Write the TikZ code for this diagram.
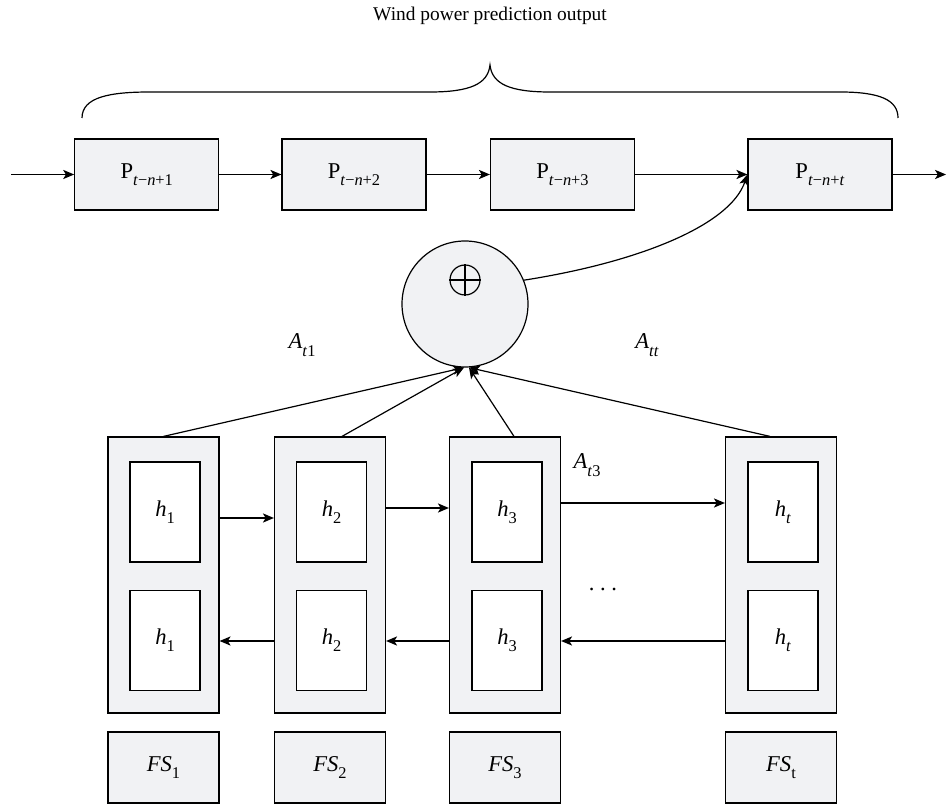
\documentclass[tikz,border=0pt]{standalone}
\usepackage{fontspec}
\setmainfont{Liberation Serif}
\usetikzlibrary{arrows.meta,calc}
\definecolor{boxfill}{RGB}{241,242,244}
% lowered subscript set in text mode
\newcommand\sbs[1]{\raisebox{-0.7ex}{\fontsize{8.2}{9}\selectfont #1}}

\begin{document}
\begin{tikzpicture}[x=0.5pt,y=-0.5pt,
  font=\fontsize{11.3}{13}\selectfont,
  line width=0.6pt,
  arr/.style={-{Stealth[length=5.5pt,width=4.6pt,inset=1.4pt]}},
  pbox/.style={draw, fill=boxfill, minimum width=72pt, minimum height=35.5pt, inner sep=0pt},
  cell/.style={draw, fill=boxfill, minimum width=55.5pt, minimum height=138pt, inner sep=0pt},
  hbox/.style={draw, fill=white, minimum width=35pt, minimum height=50pt, inner sep=0pt},
  fsbox/.style={draw, fill=boxfill, minimum width=55.5pt, minimum height=35.5pt, inner sep=0pt},
  lbl/.style={inner sep=0pt}
]
\useasboundingbox (0,0) rectangle (947,806);

% title and brace over the output sequence
\node[lbl, font=\fontsize{9.7}{12}\selectfont] (title) at (490,16) {Wind power prediction output};
\draw (82,118) .. controls (82,97) and (110,92) .. (150,92) -- (430,92)
      .. controls (470,92) and (488,84) .. (490,65)
      .. controls (492,84) and (510,92) .. (550,92) -- (840,92)
      .. controls (880,92) and (898,100) .. (898,118);

% output chain
\node[pbox] (p1) at (146.75,174.5) {P\sbs{\textit{t}−\textit{n}+1}};
\node[pbox] (p2) at (354,174.5) {P\sbs{\textit{t}−\textit{n}+2}};
\node[pbox] (p3) at (562.5,174.5) {P\sbs{\textit{t}−\textit{n}+3}};
\node[pbox] (p4) at (820,174.5) {P\sbs{\textit{t}−\textit{n}+\textit{t}}};
\coordinate (in) at (11,174.5);
\coordinate (out) at (946,174.5);
\draw[arr] (in) -- (p1);
\draw[arr] (p1) -- (p2);
\draw[arr] (p2) -- (p3);
\draw[arr] (p3) -- (p4);
\draw[arr] (p4) -- (out);

% attention summation
\node[circle, draw, fill=boxfill, minimum size=63pt, inner sep=0pt] (sum) at (465,304) {};
\node[circle, draw, minimum size=15pt, inner sep=0pt] (plus) at (465,280) {};
\draw (plus.north) -- (plus.south) (plus.west) -- (plus.east);
\draw[arr] (sum.22) .. controls (640,262) and (730,225) .. (p4.west);

% bidirectional cells
\node[cell] (b1) at (163.5,575) {};
\node[cell] (b2) at (330,575) {};
\node[cell] (b3) at (505,575) {};
\node[cell] (b4) at (781,575) {};
\node[hbox] (f1) at (165,512) {\textit{h}\sbs{1}};
\node[hbox] (f2) at (331.5,512) {\textit{h}\sbs{2}};
\node[hbox] (f3) at (507,512) {\textit{h}\sbs{3}};
\node[hbox] (f4) at (783,512) {\textit{h}\sbs{\textit{t}}};
\node[hbox] (g1) at (165,640.5) {\textit{h}\sbs{1}};
\node[hbox] (g2) at (331.5,640.5) {\textit{h}\sbs{2}};
\node[hbox] (g3) at (507,640.5) {\textit{h}\sbs{3}};
\node[hbox] (g4) at (783,640.5) {\textit{h}\sbs{\textit{t}}};

% forward and backward passes
\draw[arr] (b1.east |- 0,518) -- (b2.west |- 0,518);
\draw[arr] (b2.east |- 0,508) -- (b3.west |- 0,508);
\draw[arr] (b3.east |- 0,503) -- (b4.west |- 0,503);
\draw[arr] (b4.west |- 0,641) -- (b3.east |- 0,641);
\draw[arr] (b3.west |- 0,641) -- (b2.east |- 0,641);
\draw[arr] (b2.west |- 0,641) -- (b1.east |- 0,641);

% attention weights into the sum
\draw[arr] (b1.north) -- ([xshift=-0.5pt]sum.south);
\draw[arr] ([xshift=6pt]b2.north) -- ([xshift=-0.5pt]sum.south);
\draw[arr] ([xshift=4.5pt]b3.north) -- ([xshift=2pt]sum.south);
\draw[arr] ([xshift=-5.5pt]b4.north) -- ([xshift=2pt]sum.south);

\node[lbl] (a1) at (302,345) {\textit{A}\sbs{\textit{t}1}};
\node[lbl] (att) at (647,345) {\textit{A}\sbs{\textit{tt}}};
\node[lbl] (a3) at (587,465) {\textit{A}\sbs{\textit{t}3}};
\node[lbl, anchor=base] (dots) at (603,590) {.\hspace{2.8pt}.\hspace{2.8pt}.};

% feature inputs
\node[fsbox] (s1) at (163.5,767.5) {\textit{FS}\sbs{1}};
\node[fsbox] (s2) at (330,767.5) {\textit{FS}\sbs{2}};
\node[fsbox] (s3) at (505,767.5) {\textit{FS}\sbs{3}};
\node[fsbox] (s4) at (781,767.5) {\textit{FS}\sbs{t}};
\end{tikzpicture}
\end{document}
